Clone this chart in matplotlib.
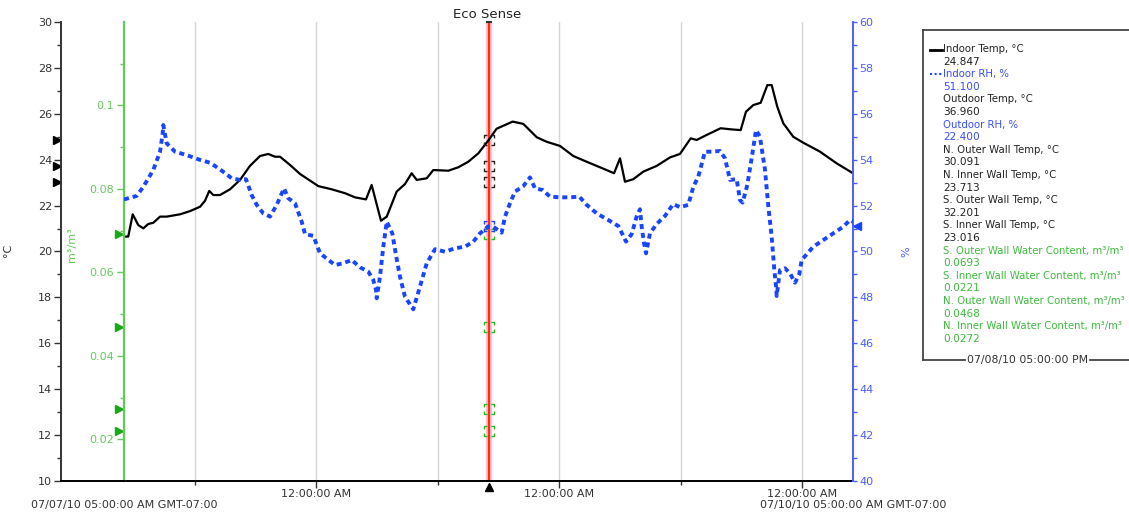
import matplotlib
matplotlib.use('Agg')
import matplotlib.pyplot as plt
from matplotlib.path import Path
from matplotlib.lines import Line2D
import matplotlib.transforms as mtransforms

plt.rcParams['font.family'] = ['DejaVu Sans']

# ---------------- data ----------------
temp_hours = [0, 0.42, 0.86, 1.41, 1.91, 2.40, 2.89, 3.56, 4.22, 5.53, 6.52, 7.51, 8.0, 8.42,
              8.82, 9.48, 10.47, 11.46, 12.44, 13.43, 14.25, 14.91, 15.41, 16.40, 17.38, 18.37,
              19.19, 20.51, 21.83, 22.81, 23.90, 24.46, 25.38, 25.95, 26.93, 27.75, 28.41, 28.91,
              29.90, 30.55, 32.03, 33.02, 34.0, 35.0, 36.0, 36.8, 38.39, 39.44, 40.76, 41.75,
              43.06, 44.38, 45.70, 47.01, 48.40, 48.99, 49.48, 50.30, 51.29, 52.61, 53.93, 54.91,
              55.97, 56.56, 57.55, 58.93, 60.02, 60.91, 61.43, 62.15, 62.88, 63.54, 63.97, 64.52,
              65.11, 66.10, 67.09, 68.74, 70.39, 72.0]
indoor_temp = [20.65, 20.65, 21.62, 21.15, 21.01, 21.20, 21.25, 21.52, 21.52, 21.62, 21.76, 21.95,
               22.21, 22.64, 22.46, 22.46, 22.71, 23.12, 23.73, 24.16, 24.25, 24.13, 24.13, 23.77,
               23.38, 23.09, 22.85, 22.71, 22.54, 22.36, 22.27, 22.90, 21.34, 21.52, 22.61, 22.94,
               23.41, 23.12, 23.19, 23.55, 23.52, 23.67, 23.91, 24.28, 24.85, 25.35, 25.66, 25.56,
               24.98, 24.78, 24.60, 24.16, 23.91, 23.67, 23.41, 24.06, 23.04, 23.15, 23.48, 23.73,
               24.10, 24.25, 24.93, 24.86, 25.08, 25.37, 25.32, 25.29, 26.09, 26.38, 26.48, 27.25,
               27.25, 26.31, 25.59, 25.00, 24.74, 24.35, 23.84, 23.41]

rh_hours = [0, 1.25, 1.91, 2.89, 3.56, 3.82, 3.88, 4.22, 5.04, 6.19, 7.51, 8.49, 9.48, 10.64,
            11.46, 12.05, 12.61, 13.11, 13.76, 14.42, 15.08, 15.80, 16.23, 16.89, 17.55, 17.88,
            18.70, 19.36, 20.84, 21.66, 22.49, 23.31, 24.13, 24.62, 24.89, 24.96, 25.28, 25.61,
            25.95, 26.50, 26.83, 27.26, 27.75, 28.57, 29.23, 29.90, 30.72, 31.70, 32.69, 33.68,
            34.50, 35.16, 36.0, 36.47, 37.30, 37.63, 38.12, 38.62, 39.44, 40.10, 40.59, 41.35,
            42.07, 43.06, 44.05, 44.97, 45.70, 46.69, 47.83, 48.82, 49.31, 49.58, 50.14, 50.63,
            50.96, 51.13, 51.36, 51.56, 51.95, 52.61, 53.43, 54.25, 54.91, 55.73, 56.23, 56.72,
            57.38, 58.04, 58.86, 59.36, 59.85, 60.51, 60.84, 61.10, 61.56, 61.99, 62.42, 62.81,
            63.31, 63.64, 63.97, 64.23, 64.40, 64.46, 64.79, 65.28, 65.78, 66.27, 66.70, 66.93,
            68.08, 69.07, 70.05, 71.04, 71.70, 72.0]
indoor_rh = [52.27, 52.42, 52.82, 53.55, 54.35, 55.15, 55.51, 54.71, 54.35, 54.20, 53.99, 53.87,
             53.58, 53.19, 53.12, 53.15, 52.46, 52.03, 51.66, 51.52, 52.03, 52.75, 52.32, 52.10,
             51.30, 50.76, 50.68, 49.92, 49.41, 49.49, 49.63, 49.31, 49.12, 48.76, 48.32, 47.96,
             48.90, 50.21, 51.30, 50.79, 49.92, 48.90, 48.03, 47.48, 48.47, 49.49, 50.10, 49.99,
             50.14, 50.21, 50.43, 50.79, 51.10, 51.08, 50.82, 51.52, 52.10, 52.61, 52.85, 53.23,
             52.75, 52.68, 52.39, 52.36, 52.36, 52.39, 52.03, 51.66, 51.37, 51.11, 50.68, 50.43,
             50.76, 51.52, 51.84, 51.08, 50.36, 49.92, 50.79, 51.20, 51.55, 52.07, 51.93, 52.03,
             52.82, 53.26, 54.35, 54.35, 54.38, 54.06, 53.12, 53.15, 52.24, 52.13, 52.90, 54.06,
             55.29, 55.00, 53.55, 51.95, 50.64, 49.19, 48.47, 48.06, 49.19, 49.27, 49.05, 48.64,
             49.02, 49.63, 50.21, 50.50, 50.79, 51.08, 51.37, 51.30]

cursor_hour = 36.0
cursor_temps = [24.847, 23.713, 23.016]
cursor_rh = [51.100]
cursor_wc = [0.0693, 0.0221, 0.0468, 0.0272]

legend_labels = ['Indoor Temp, °C', 'Indoor RH, %', 'Outdoor Temp, °C', 'Outdoor RH, %',
                 'N. Outer Wall Temp, °C', 'N. Inner Wall Temp, °C', 'S. Outer Wall Temp, °C',
                 'S. Inner Wall Temp, °C', 'S. Outer Wall Water Content, m³/m³',
                 'S. Inner Wall Water Content, m³/m³', 'N. Outer Wall Water Content, m³/m³',
                 'N. Inner Wall Water Content, m³/m³']
legend_values = ['24.847', '51.100', '36.960', '22.400', '30.091', '23.713', '32.201', '23.016',
                 '0.0693', '0.0221', '0.0468', '0.0272']
legend_kinds = ['temp', 'rh', 'temp', 'rh', 'temp', 'temp', 'temp', 'temp',
                'wc', 'wc', 'wc', 'wc']

midnight_hours = [19, 43, 67]
noon_hours = [7, 31, 55]
midnight_labels = ['12:00:00 AM', '12:00:00 AM', '12:00:00 AM']
start_label = '07/07/10 05:00:00 AM GMT-07:00'
end_label = '07/10/10 05:00:00 AM GMT-07:00'
cursor_label = '07/08/10 05:00:00 PM'
title = 'Eco Sense'

# ---------------- style ----------------
C_TEMP = '#000000'
C_TEMP_TXT = '#333333'
C_RH = '#1a45ff'
C_RH_AX = '#4d5dff'
C_G_AX = '#5fcc55'
C_G_TXT = '#66c95c'
C_G_MARK = '#1aa81a'
C_LEG_G = '#3dbb3d'
C_LEG_B = '#3a4cff'

W, H = 1129, 512
fig = plt.figure(figsize=(W / 100, H / 100), dpi=100)
L, R, T, B = 124, 853, 22, 481
ax = fig.add_axes([L / W, 1 - B / H, (R - L) / W, (B - T) / H])
ax_g = ax.twinx()
ax_rh = ax.twinx()

ax.set_xlim(0, 72)
ax.set_ylim(10, 30)
ax_g.set_ylim(0.01, 0.12)
ax_rh.set_ylim(40, 60)

# spines
axw = R - L
ax.spines['left'].set_position(('axes', -63 / axw))
ax.spines['left'].set_color('#333333')
ax.spines['left'].set_linewidth(1.4)
ax.spines['bottom'].set_linewidth(1.4)
ax.spines['top'].set_visible(False)
ax.spines['right'].set_visible(False)
for s in ['top', 'bottom', 'right']:
    ax_g.spines[s].set_visible(False)
ax_g.spines['left'].set_color(C_G_AX)
ax_g.spines['left'].set_linewidth(1.6)
for s in ['top', 'bottom', 'left']:
    ax_rh.spines[s].set_visible(False)
ax_rh.spines['right'].set_color(C_RH_AX)
ax_rh.spines['right'].set_linewidth(1.4)

fig.add_artist(Line2D([61 / W, L / W], [1 - B / H, 1 - B / H], transform=fig.transFigure,
                      color='black', lw=1.4))

# y ticks
ax.set_yticks(range(10, 31, 2))
ax.set_yticks(range(11, 30, 2), minor=True)
ax.tick_params(axis='y', which='major', length=5, width=1, colors=C_TEMP_TXT, labelsize=8, pad=1.5)
ax.tick_params(axis='y', which='minor', length=3, width=1, colors=C_TEMP_TXT)

ax_g.yaxis.set_ticks_position('left')
ax_g.yaxis.set_label_position('left')
ax_g.set_yticks([0.02, 0.04, 0.06, 0.08, 0.1])
ax_g.set_yticklabels(['0.02', '0.04', '0.06', '0.08', '0.1'])
ax_g.set_yticks([0.03, 0.05, 0.07, 0.09, 0.11], minor=True)
ax_g.tick_params(axis='y', which='major', length=5, width=1, colors=C_G_TXT, labelsize=8, pad=2.5)
ax_g.tick_params(axis='y', which='minor', length=3, width=1, colors=C_G_TXT)

ax_rh.set_yticks(range(40, 61, 2))
ax_rh.set_yticks(range(41, 60, 2), minor=True)
ax_rh.tick_params(axis='y', which='major', length=3, width=1, colors=C_RH_AX, labelsize=8, pad=1.5)
ax_rh.tick_params(axis='y', which='minor', length=3, width=1, colors=C_RH_AX)

# x ticks
ax.set_xticks(midnight_hours)
ax.set_xticklabels(midnight_labels)
ax.set_xticks(noon_hours, minor=True)
ax.tick_params(axis='x', which='major', length=5, width=1, colors='#333333', labelsize=8, pad=1)
ax.tick_params(axis='x', which='minor', length=3, width=1, colors='#333333')
ax.grid(which='both', axis='x', color='#d6d6d6', lw=1)
ax.set_axisbelow(True)

# cursor
ax.axvline(cursor_hour, color='#ffc4c4', lw=4.5, zorder=1.5)
ax.axvline(cursor_hour, color='#ff2a1a', lw=1.6, zorder=1.6)
tr_x = mtransforms.blended_transform_factory(ax.transData, ax.transAxes)
ax.plot([cursor_hour], [1.0], ls='none', marker='_', ms=4, mew=1.5, color='#333333',
        transform=tr_x, clip_on=False, zorder=5)

# series
ax.plot(temp_hours, indoor_temp, color=C_TEMP, lw=1.6, zorder=3)
ax_rh.plot(rh_hours, indoor_rh, color=C_RH, lw=2.8, dashes=(1.3, 1.0), zorder=3)

# bracket marker
a = 0.45
verts = [(-1, a), (-1, 1), (-a, 1),
         (a, 1), (1, 1), (1, a),
         (1, -a), (1, -1), (a, -1),
         (-a, -1), (-1, -1), (-1, -a)]
codes = [Path.MOVETO, Path.LINETO, Path.LINETO] * 4
bracket = Path(verts, codes)

ax.plot([cursor_hour] * len(cursor_temps), cursor_temps, ls='none', marker=bracket, ms=7.5,
        mec='#222222', mfc='none', mew=1.0, zorder=4)
ax_rh.plot([cursor_hour] * len(cursor_rh), cursor_rh, ls='none', marker=bracket, ms=7.5,
           mec=C_RH, mfc='none', mew=1.0, zorder=4)
ax_g.plot([cursor_hour] * len(cursor_wc), cursor_wc, ls='none', marker=bracket, ms=7.5,
          mec='#22bb22', mfc='none', mew=1.0, zorder=4)

# axis indicators (triangles)
tr_t = mtransforms.blended_transform_factory(ax.transAxes, ax.transData)
ax.plot([(57 - L) / axw] * len(cursor_temps), cursor_temps, ls='none', marker='>', ms=6,
        color='black', transform=tr_t, clip_on=False)
tr_g = mtransforms.blended_transform_factory(ax_g.transAxes, ax_g.transData)
ax_g.plot([(119 - L) / axw] * len(cursor_wc), cursor_wc, ls='none', marker='>', ms=6,
          color=C_G_MARK, transform=tr_g, clip_on=False)
tr_r = mtransforms.blended_transform_factory(ax_rh.transAxes, ax_rh.transData)
ax_rh.plot([(857 - L) / axw] * len(cursor_rh), cursor_rh, ls='none', marker='<', ms=6,
           color=C_RH, transform=tr_r, clip_on=False)
ax.plot([cursor_hour], [-6 / (B - T)], ls='none', marker='^', ms=6, color='black',
        transform=tr_x, clip_on=False)

# axis labels
fig.text(8 / W, 1 - 250 / H, '°C', rotation=90, ha='center', va='center', fontsize=8,
         color='#333333')
fig.text(72 / W, 1 - 245 / H, 'm³/m³', rotation=90, ha='center', va='center', fontsize=8,
         color=C_G_TXT)
fig.text(906 / W, 1 - 252 / H, '%', rotation=90, ha='center', va='center', fontsize=8,
         color=C_RH_AX)

# title and corner date labels
fig.text(487 / W, 1 - 15 / H, title, ha='center', va='center', fontsize=9.5, color='#222222')
fig.text(L / W, 1 - 505 / H, start_label, ha='center', va='center', fontsize=8, color='#333333')
fig.text(R / W, 1 - 505 / H, end_label, ha='center', va='center', fontsize=8, color='#333333')

# legend panel
bx0, by0, by1 = 923, 30, 360
box_kw = dict(transform=fig.transFigure, color='#444444', lw=1.3)
fig.add_artist(Line2D([bx0 / W, 1.01], [1 - by0 / H] * 2, **box_kw))
fig.add_artist(Line2D([bx0 / W, bx0 / W], [1 - by0 / H, 1 - by1 / H], **box_kw))
fig.add_artist(Line2D([bx0 / W, 965 / W], [1 - by1 / H] * 2, **box_kw))
fig.add_artist(Line2D([1090 / W, 1.01], [1 - by1 / H] * 2, **box_kw))
fig.text(1027.5 / W, 1 - by1 / H, cursor_label, ha='center', va='center', fontsize=7.8,
         color='#333333')

kind_color = {'temp': '#222222', 'rh': C_LEG_B, 'wc': C_LEG_G}
y0, dy = 49, 12.6
for i, (lab, val, kind) in enumerate(zip(legend_labels, legend_values, legend_kinds)):
    yl = y0 + 2 * i * dy
    yv = yl + dy
    c = kind_color[kind]
    fig.text(943 / W, 1 - yl / H, lab, ha='left', va='center', fontsize=7.3, color=c)
    fig.text(943 / W, 1 - yv / H, val, ha='left', va='center', fontsize=7.6, color=c)

fig.add_artist(Line2D([930 / W, 942 / W], [1 - (y0 + 1) / H] * 2, transform=fig.transFigure,
                      color='black', lw=2))
fig.add_artist(Line2D([930 / W, 942 / W], [1 - (y0 + 2 * dy) / H] * 2,
                      transform=fig.transFigure, color=C_RH, lw=1.5, dashes=(1, 1.2)))

fig.savefig('out.png', dpi=100)
